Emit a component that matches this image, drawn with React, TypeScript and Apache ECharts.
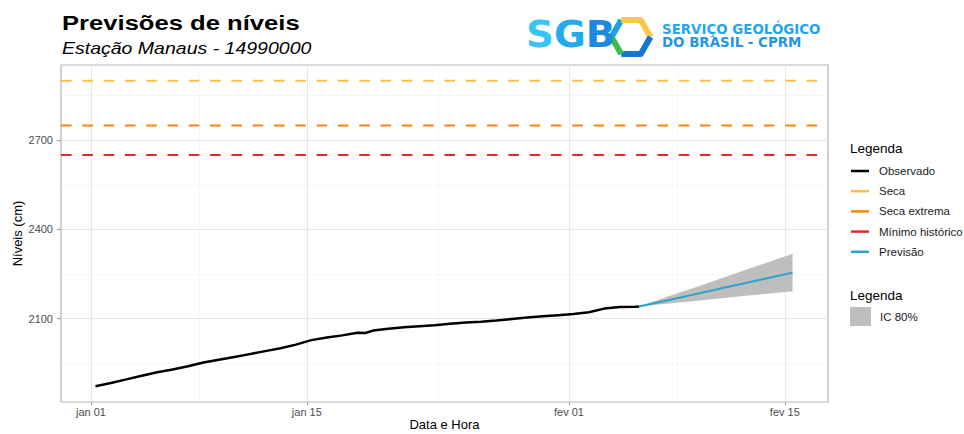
import React, { useEffect, useRef } from "react";
import * as echarts from "echarts";

// ---------- data ----------
const obsTimes = [
  "2024-01-01T07:00:00Z", "2024-01-02T07:00:00Z", "2024-01-03T07:00:00Z", "2024-01-04T07:00:00Z",
  "2024-01-05T07:00:00Z", "2024-01-06T07:00:00Z", "2024-01-07T07:00:00Z", "2024-01-08T07:00:00Z",
  "2024-01-09T07:00:00Z", "2024-01-10T07:00:00Z", "2024-01-11T07:00:00Z", "2024-01-12T07:00:00Z",
  "2024-01-13T07:00:00Z", "2024-01-14T07:00:00Z", "2024-01-15T07:00:00Z", "2024-01-16T07:00:00Z",
  "2024-01-17T07:00:00Z", "2024-01-18T07:00:00Z", "2024-01-18T19:00:00Z", "2024-01-19T07:00:00Z",
  "2024-01-20T07:00:00Z", "2024-01-21T07:00:00Z", "2024-01-22T07:00:00Z", "2024-01-23T07:00:00Z",
  "2024-01-24T07:00:00Z", "2024-01-25T07:00:00Z", "2024-01-26T07:00:00Z", "2024-01-27T07:00:00Z",
  "2024-01-28T07:00:00Z", "2024-01-29T07:00:00Z", "2024-01-30T07:00:00Z", "2024-01-31T07:00:00Z",
  "2024-02-01T07:00:00Z", "2024-02-02T07:00:00Z", "2024-02-03T07:00:00Z", "2024-02-04T07:00:00Z",
  "2024-02-05T07:00:00Z", "2024-02-05T13:00:00Z",
];
const obsValues = [
  1873, 1884, 1896, 1908, 1920, 1929, 1940, 1953, 1962, 1971, 1981, 1991, 2001, 2013, 2028, 2037,
  2044, 2053, 2052, 2060, 2066, 2071, 2075, 2078, 2083, 2087, 2090, 2094, 2099, 2104, 2108, 2112,
  2116, 2122, 2134, 2139, 2140, 2141,
];

const fcTimes = [
  "2024-02-05T13:00:00Z", "2024-02-07T12:00:00Z", "2024-02-09T12:00:00Z",
  "2024-02-11T12:00:00Z", "2024-02-13T12:00:00Z", "2024-02-15T12:00:00Z",
];
const fcValues = [2141, 2163, 2186, 2209, 2232, 2255];
const fcLower = [2141, 2151, 2161, 2172, 2182, 2192];
const fcUpper = [2141, 2176, 2211, 2247, 2283, 2318];

const thresholdNames = ["Seca", "Seca extrema", "Mínimo histórico"];
const thresholdValues = [2900, 2750, 2650];

const yTicks = [2100, 2400, 2700];
const yMinorGrid = [1950, 2250, 2550, 2850];
const xTickDates = ["2024-01-01T00:00:00Z", "2024-01-15T00:00:00Z", "2024-02-01T00:00:00Z", "2024-02-15T00:00:00Z"];
const xTickLabels = ["jan 01", "jan 15", "fev 01", "fev 15"];
const xMinorGridDates = ["2024-01-08T00:00:00Z", "2024-01-23T12:00:00Z", "2024-02-08T00:00:00Z"];
const xRange = ["2023-12-30T01:18:00Z", "2024-02-17T19:12:00Z"];
const yRange = [1820, 2953];

// ---------- styles ----------
const FONT = '"Liberation Sans", Arial, Helvetica, sans-serif';
const LOGO_FONT = '"DejaVu Sans", sans-serif';
const thresholdColors = ["#FBBE4A", "#F5850F", "#E2282B"];
const OBS_COLOR = "#000000";
const FC_COLOR = "#2AA3C9";
const BAND_COLOR = "#BEBEBE";

// days elapsed since the first x tick (numeric x scale)
const ORIGIN = Date.parse(xTickDates[0]);
const day = (s: string) => (Date.parse(s) - ORIGIN) / 86400000;

export default function App() {
  const ref = useRef<HTMLDivElement>(null);

  useEffect(() => {
    if (!ref.current) return;
    const chart = echarts.init(ref.current, undefined, { renderer: "svg" });

    const xMin = day(xRange[0]);
    const xMax = day(xRange[1]);
    const xTickDays = xTickDates.map(day);

    const gridLineData: any[] = [
      ...yTicks.map((v) => ({ yAxis: v, lineStyle: { color: "#E6E6E6", width: 1.1 } })),
      ...yMinorGrid.map((v) => ({ yAxis: v, lineStyle: { color: "#F3F3F3", width: 0.7 } })),
      ...xTickDays.map((d) => ({ xAxis: d, lineStyle: { color: "#E6E6E6", width: 1.1 } })),
      ...xMinorGridDates.map((d) => ({ xAxis: day(d), lineStyle: { color: "#F3F3F3", width: 0.7 } })),
    ];

    const bandData = fcTimes.map((t, i) => [day(t), fcLower[i], fcUpper[i]]);

    const option: any = {
      animation: false,
      textStyle: { fontFamily: FONT },
      grid: {
        left: 61,
        top: 65,
        right: 136,
        bottom: 32,
        outerBoundsMode: "none",
        containLabel: false,
        show: true,
        borderColor: "#B3B3B3",
        borderWidth: 1.2,
        backgroundColor: "transparent",
      },
      xAxis: {
        type: "value",
        min: xMin,
        max: xMax,
        name: "Data e Hora",
        nameLocation: "middle",
        nameGap: 16,
        nameMoveOverlap: false,
        nameTextStyle: { fontSize: 13, color: "#000", fontFamily: FONT, lineHeight: 13 },
        axisLine: { show: false, onZero: false },
        splitLine: { show: false },
        axisTick: { show: true, length: 3, lineStyle: { color: "#999" }, customValues: xTickDays },
        axisLabel: {
          customValues: xTickDays,
          margin: 4,
          fontSize: 11,
          color: "#4D4D4D",
          fontFamily: FONT,
          formatter: (v: number) => {
            const i = xTickDays.findIndex((d) => Math.abs(d - v) < 1e-6);
            return i >= 0 ? xTickLabels[i] : "";
          },
        },
      },
      yAxis: {
        type: "value",
        min: yRange[0],
        max: yRange[1],
        name: "Níveis (cm)",
        nameLocation: "middle",
        nameGap: 37,
        nameMoveOverlap: false,
        nameTextStyle: { fontSize: 13, color: "#000", fontFamily: FONT },
        axisLine: { show: false, onZero: false },
        splitLine: { show: false },
        axisTick: { show: true, length: 4, lineStyle: { color: "#999" }, customValues: yTicks },
        axisLabel: {
          customValues: yTicks,
          margin: 8,
          fontSize: 11,
          color: "#4D4D4D",
          fontFamily: FONT,
          formatter: (v: number) => String(v),
        },
      },
      legend: [
        {
          orient: "vertical",
          left: 851,
          top: 164,
          padding: 0,
          itemWidth: 18,
          itemHeight: 2.5,
          itemGap: 6.2,
          icon: "rect",
          selectedMode: false,
          itemStyle: { borderWidth: 0 },
          textStyle: { fontSize: 11.5, color: "#1A1A1A", lineHeight: 14, fontFamily: FONT, padding: [0, 0, 0, 5] },
          data: [
            { name: "Observado", itemStyle: { color: OBS_COLOR } },
            { name: thresholdNames[0], itemStyle: { color: thresholdColors[0] } },
            { name: thresholdNames[1], itemStyle: { color: thresholdColors[1] } },
            { name: thresholdNames[2], itemStyle: { color: thresholdColors[2] } },
            { name: "Previsão", itemStyle: { color: FC_COLOR } },
          ],
        },
        {
          orient: "vertical",
          left: 850,
          top: 307,
          padding: 0,
          itemWidth: 21,
          itemHeight: 19,
          icon: "rect",
          selectedMode: false,
          itemStyle: { borderWidth: 0 },
          textStyle: { fontSize: 11.5, color: "#1A1A1A", fontFamily: FONT, padding: [0, 0, 0, 4] },
          data: [{ name: "IC 80%", itemStyle: { color: BAND_COLOR } }],
        },
      ],
      graphic: [
        {
          type: "text",
          x: 62,
          y: 22.5,
          scaleX: 1.22,
          style: { text: "Previsões de níveis", font: `bold 21px ${FONT}`, fill: "#000", verticalAlign: "middle" },
        },
        {
          type: "text",
          x: 62,
          y: 48.5,
          scaleX: 1.22,
          style: { text: "Estação Manaus - 14990000", font: `italic 16px ${FONT}`, fill: "#000", verticalAlign: "middle" },
        },
        {
          type: "text",
          x: 850,
          y: 148,
          style: { text: "Legenda", font: `13.5px ${FONT}`, fill: "#000", verticalAlign: "middle" },
        },
        {
          type: "text",
          x: 850,
          y: 295,
          style: { text: "Legenda", font: `13.5px ${FONT}`, fill: "#000", verticalAlign: "middle" },
        },
        {
          type: "group",
          children: [
            { type: "polyline", shape: { points: [[611.5, 37], [621.25, 20.1]] }, style: { stroke: "#1F9FE8", lineWidth: 6, fill: "none" } },
            { type: "polyline", shape: { points: [[621.25, 20.1], [640.75, 20.1], [650.5, 37]] }, style: { stroke: "#F8C84B", lineWidth: 6, fill: "none", lineJoin: "round" } },
            { type: "polyline", shape: { points: [[650.5, 37], [640.75, 53.9], [621.25, 53.9]] }, style: { stroke: "#1576D0", lineWidth: 6, fill: "none", lineJoin: "round" } },
            { type: "polyline", shape: { points: [[621.25, 53.9], [611.5, 37]] }, style: { stroke: "#3DBB50", lineWidth: 6, fill: "none" } },
          ],
        },
        {
          type: "text",
          x: 526,
          y: 34,
          scaleX: 1.05,
          style: {
            text: "{s|S}{g|G}{b|B}",
            font: `bold 37px ${LOGO_FONT}`,
            verticalAlign: "middle",
            rich: {
              s: { fill: "#36C6F5", font: `bold 37px ${LOGO_FONT}` },
              g: { fill: "#25AAEC", font: `bold 37px ${LOGO_FONT}` },
              b: { fill: "#1B8ADF", font: `bold 37px ${LOGO_FONT}` },
            },
          },
        },
        {
          type: "text",
          x: 662,
          y: 29,
          style: { text: "SERVIÇO GEOLÓGICO", font: `bold 13.4px ${LOGO_FONT}`, fill: "#26A6EA", verticalAlign: "middle" },
        },
        {
          type: "text",
          x: 662,
          y: 42.5,
          style: { text: "DO BRASIL - CPRM", font: `bold 13.4px ${LOGO_FONT}`, fill: "#2196E4", verticalAlign: "middle" },
        },
      ],
      series: [
        {
          name: "_grid",
          type: "line",
          data: [],
          silent: true,
          markLine: {
            silent: true,
            z: 0,
            symbol: ["none", "none"],
            label: { show: false },
            lineStyle: { type: "solid" },
            data: gridLineData,
          },
        },
        {
          name: "IC 80%",
          type: "custom",
          silent: true,
          z: 1,
          color: BAND_COLOR,
          data: bandData,
          encode: { x: 0, y: [1, 2] },
          renderItem: (params: any, api: any) => {
            if (params.dataIndex !== 0) return null;
            const lowerPts = bandData.map((d) => api.coord([d[0], d[1]]));
            const upperPts = bandData.map((d) => api.coord([d[0], d[2]])).reverse();
            return {
              type: "polygon",
              shape: { points: lowerPts.concat(upperPts) },
              style: { fill: BAND_COLOR, stroke: "none" },
            };
          },
        },
        ...thresholdNames.map((n, k) => ({
          name: n,
          type: "line",
          symbol: "none",
          color: thresholdColors[k],
          z: 2,
          lineStyle: { color: thresholdColors[k], width: 2, type: [10.6, 10.7] },
          data: [
            [xMin, thresholdValues[k]],
            [xMax, thresholdValues[k]],
          ],
        })),
        {
          name: "Previsão",
          type: "line",
          symbol: "none",
          color: FC_COLOR,
          z: 3,
          lineStyle: { color: FC_COLOR, width: 2 },
          data: fcTimes.map((t, i) => [day(t), fcValues[i]]),
        },
        {
          name: "Observado",
          type: "line",
          symbol: "none",
          color: OBS_COLOR,
          z: 4,
          lineStyle: { color: OBS_COLOR, width: 2.5 },
          data: obsTimes.map((t, i) => [day(t), obsValues[i]]),
        },
      ],
    };

    chart.setOption(option);
    return () => chart.dispose();
  }, []);

  return (
    <div
      ref={ref}
      style={{ position: "absolute", left: 0, top: 0, width: 964, height: 434, background: "#fff" }}
    />
  );
}
